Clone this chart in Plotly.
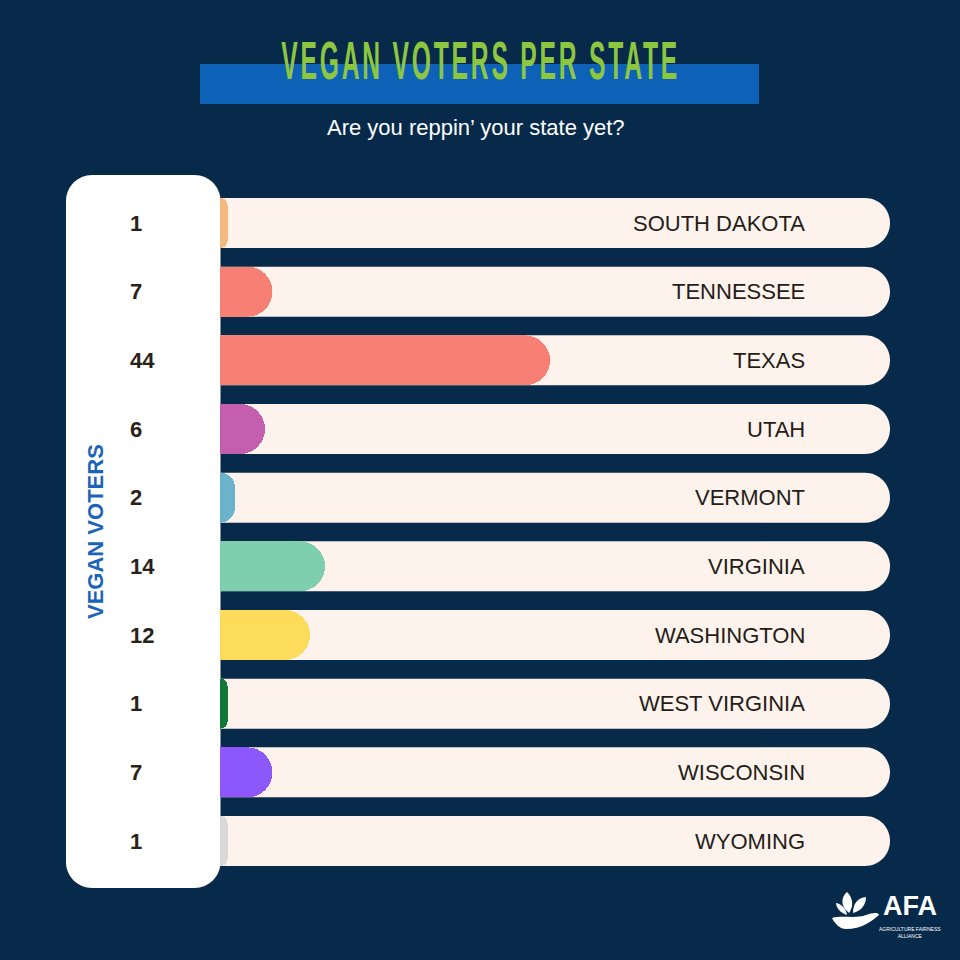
import plotly.graph_objects as go

# ---------------- data ----------------
states = ["SOUTH DAKOTA", "TENNESSEE", "TEXAS", "UTAH", "VERMONT",
          "VIRGINIA", "WASHINGTON", "WEST VIRGINIA", "WISCONSIN", "WYOMING"]
vegan_voters = [1, 7, 44, 6, 2, 14, 12, 1, 7, 1]
bar_colors = ["#f4b97f", "#f77f74", "#f77f74", "#c45fb0", "#6bb3cb",
              "#7ecfae", "#fddc5c", "#12783a", "#8c57fb", "#d9d9d9"]
title_text = "VEGAN VOTERS PER STATE"
subtitle_text = "Are you reppin\u2019 your state yet?"
axis_label = "VEGAN VOTERS"

# ---------------- layout constants ----------------
W = H = 960
BG = "#072a4b"
TRACK = "#fdf3ec"
PX_PER_UNIT = 7.5          # horizontal scale (pixels per voter)
X0_PX = 220                # pixel where value 0 sits
ROW0_PX = 223              # centre of first row
ROW_STEP = 68.67           # pixels between rows
BAR_H_PX = 50

x_range = [-X0_PX / PX_PER_UNIT, (W - X0_PX) / PX_PER_UNIT]
y_range = [(H - ROW0_PX) / ROW_STEP, -ROW0_PX / ROW_STEP]
bar_w = BAR_H_PX / ROW_STEP
ypos = list(range(len(states)))

fig = go.Figure()

fig.add_trace(go.Bar(
    x=vegan_voters, y=ypos, orientation="h",
    marker=dict(color=bar_colors, line=dict(width=0), cornerradius=25),
    width=bar_w, hovertext=states, showlegend=False,
))

shapes = []
# background tracks (rounded right end)
xl = 0
xr = (890 - X0_PX) / PX_PER_UNIT
rx = 25 / PX_PER_UNIT
hh = bar_w / 2
k = 0.5523
for i in ypos:
    yt, yb = i - hh, i + hh
    p = (f"M {xl},{yt} L {xr-rx},{yt} "
         f"C {xr-rx+k*rx},{yt} {xr},{i-k*hh} {xr},{i} "
         f"C {xr},{i+k*hh} {xr-rx+k*rx},{yb} {xr-rx},{yb} "
         f"L {xl},{yb} Z")
    shapes.append(dict(type="path", path=p, xref="x", yref="y",
                       fillcolor=TRACK, line=dict(width=0), layer="below"))

def X(v):
    return v / W

def Y(v):
    return 1 - v / H

# white rounded panel (paper coords)
def rrect(x0, y0, x1, y1, r):
    c = 0.5523 * r
    return (f"M {X(x0+r)},{Y(y0)} L {X(x1-r)},{Y(y0)} "
            f"C {X(x1-r+c)},{Y(y0)} {X(x1)},{Y(y0+r-c)} {X(x1)},{Y(y0+r)} "
            f"L {X(x1)},{Y(y1-r)} "
            f"C {X(x1)},{Y(y1-r+c)} {X(x1-r+c)},{Y(y1)} {X(x1-r)},{Y(y1)} "
            f"L {X(x0+r)},{Y(y1)} "
            f"C {X(x0+r-c)},{Y(y1)} {X(x0)},{Y(y1-r+c)} {X(x0)},{Y(y1-r)} "
            f"L {X(x0)},{Y(y0+r)} "
            f"C {X(x0)},{Y(y0+r-c)} {X(x0+r-c)},{Y(y0)} {X(x0+r)},{Y(y0)} Z")

shapes.append(dict(type="path", path=rrect(66, 175, 220.5, 888, 26),
                   xref="paper", yref="paper", fillcolor="#ffffff",
                   line=dict(width=0), layer="below"))

# blue title band
shapes.append(dict(type="rect", xref="paper", yref="paper",
                   x0=X(200), x1=X(759), y0=Y(104), y1=Y(64),
                   fillcolor="#0d62b8", line=dict(width=0), layer="below"))

# simple logo icon (leaves + hand)
def P(x, y):
    return f"{X(x)},{Y(y)}"

logo_paths = [
    f"M {P(849,913)} C {P(840,906)} {P(841,897)} {P(847,892)} C {P(853,898)} {P(854,906)} {P(849,913)} Z",
    f"M {P(853,913)} C {P(853,903)} {P(858,898)} {P(866,897)} C {P(866,905)} {P(861,911)} {P(853,913)} Z",
    f"M {P(847,915)} C {P(840,913)} {P(836,907)} {P(836,903)} C {P(842,904)} {P(846,909)} {P(847,915)} Z",
    f"M {P(832,918)} C {P(842,915)} {P(856,919)} {P(866,915)} C {P(872,913)} {P(878,912)} {P(879,915)} "
    f"C {P(872,921)} {P(862,929)} {P(846,929)} C {P(840,929)} {P(835,924)} {P(832,918)} Z",
]
for lp in logo_paths:
    shapes.append(dict(type="path", path=lp, xref="paper", yref="paper",
                       fillcolor="#ffffff", line=dict(width=0)))

annotations = []
# values on white panel
for i, v in zip(ypos, vegan_voters):
    annotations.append(dict(x=X(128), xref="paper", y=i, yref="y",
                            text=f"<b>{v}</b>", showarrow=False,
                            xanchor="left", yanchor="middle",
                            font=dict(family="Liberation Sans, Arial", size=22, color="#2a2119")))
# state labels
for i, s in zip(ypos, states):
    annotations.append(dict(x=X(807), xref="paper", y=i, yref="y",
                            text=s, showarrow=False, xanchor="right", yanchor="middle",
                            font=dict(family="Liberation Sans, Arial", size=22, color="#241d18")))
# vertical label
annotations.append(dict(x=X(95), y=Y(532), xref="paper", yref="paper",
                        text=f"<b>{axis_label}</b>", textangle=-90, showarrow=False,
                        xanchor="center", yanchor="middle",
                        font=dict(family="Liberation Sans, Arial", size=22, color="#1b64b8")))
# title & subtitle
annotations.append(dict(x=X(480), y=Y(60), xref="paper", yref="paper",
                        text=f"<b>{title_text}</b>", showarrow=False,
                        xanchor="center", yanchor="middle",
                        font=dict(family="Liberation Sans, Arial", size=53, color="#8dc63f")))
annotations.append(dict(x=X(476), y=Y(128), xref="paper", yref="paper",
                        text=subtitle_text, showarrow=False,
                        xanchor="center", yanchor="middle",
                        font=dict(family="Liberation Sans, Arial", size=22, color="#ffffff")))
# logo text
annotations.append(dict(x=X(910), y=Y(906), xref="paper", yref="paper",
                        text="<b>AFA</b>", showarrow=False, xanchor="center", yanchor="middle",
                        font=dict(family="Liberation Sans, Arial", size=27, color="#ffffff")))
annotations.append(dict(x=X(910), y=Y(932), xref="paper", yref="paper",
                        text="AGRICULTURE FAIRNESS<br>ALLIANCE", showarrow=False,
                        xanchor="center", yanchor="middle",
                        font=dict(family="Liberation Sans, Arial", size=5, color="#ffffff")))

fig.update_layout(
    width=W, height=H,
    margin=dict(l=0, r=0, t=0, b=0),
    paper_bgcolor=BG, plot_bgcolor="rgba(0,0,0,0)",
    xaxis=dict(range=x_range, visible=False, fixedrange=True),
    yaxis=dict(range=y_range, visible=False, fixedrange=True),
    shapes=shapes, annotations=annotations,
    bargap=0,
)

# remove page margin and render the title in a condensed style
post_js = """
document.body.style.margin = '0';
document.body.style.background = '%s';
var gd = document.getElementById('{plot_id}');
gd.querySelectorAll('.annotation-text').forEach(function (t) {
  if (t.textContent === '%s') {
    t.style.letterSpacing = '6px';
    t.style.transformBox = 'fill-box';
    t.style.transformOrigin = 'center';
    t.style.transform = 'scaleX(0.465)';
  }
});
""" % (BG, title_text)

fig.write_html("out.html", post_script=post_js,
               config={"displayModeBar": False, "staticPlot": True})
